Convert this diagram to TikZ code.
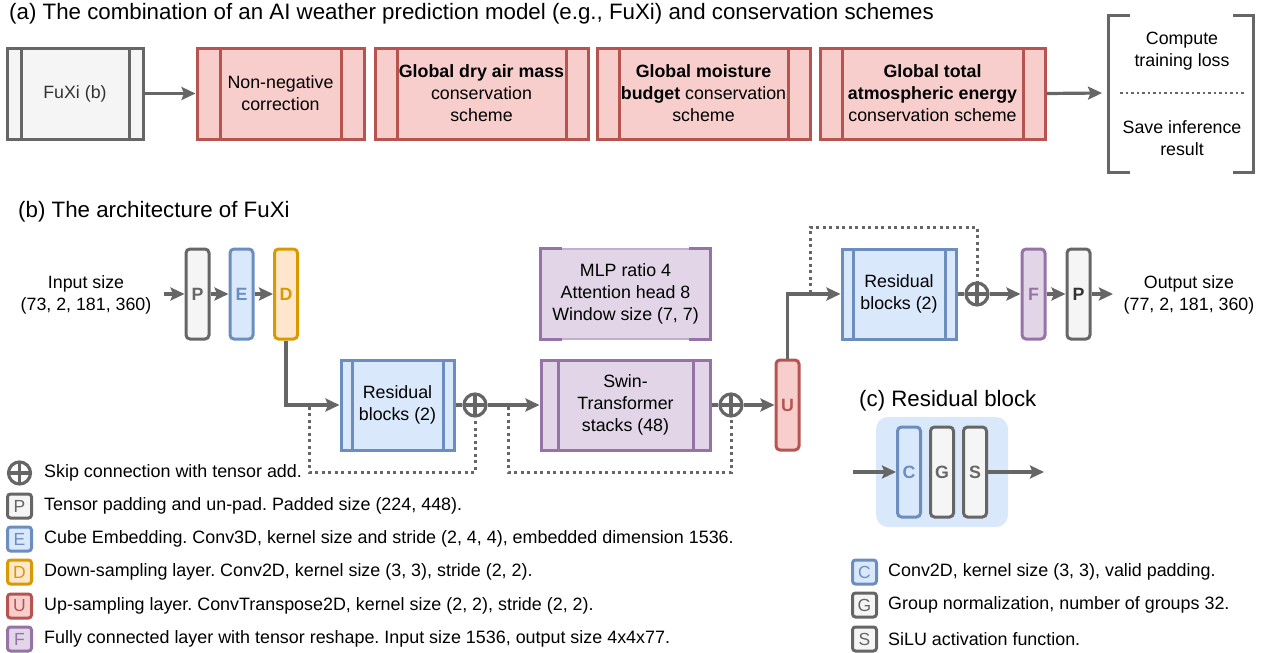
\documentclass[tikz,border=0pt]{standalone}
\usepackage{fontspec}
\setmainfont{Liberation Sans}
\usetikzlibrary{arrows.meta}
\frenchspacing
\definecolor{gS}{HTML}{666666}\definecolor{gF}{HTML}{F5F5F5}
\definecolor{rS}{HTML}{B85450}\definecolor{rF}{HTML}{F8CECC}
\definecolor{bS}{HTML}{6C8EBF}\definecolor{bF}{HTML}{DAE8FC}
\definecolor{oS}{HTML}{D79B00}\definecolor{oF}{HTML}{FFE6CC}
\definecolor{pS}{HTML}{9673A6}\definecolor{pF}{HTML}{E1D5E7}
\definecolor{pL}{HTML}{C4AED0}
\definecolor{tD}{HTML}{333333}
\begin{document}
\begin{tikzpicture}[x=1pt,y=-1pt,
  txt/.style={font=\fontsize{17.8}{22}\selectfont\frenchspacing, align=center, inner sep=0pt},
  ttl/.style={font=\fontsize{22.3}{26}\selectfont\frenchspacing, anchor=west, inner sep=0pt},
  lgt/.style={font=\fontsize{17.9}{22}\selectfont\frenchspacing, anchor=west, inner sep=0pt},
  conn/.style={draw=gS, line width=3.2pt},
  arr/.style={conn, -{Stealth[length=14pt,width=13pt,inset=2.5pt]}},
  dots/.style={draw=gS, line width=3pt, dash pattern=on 3pt off 3.5pt},
  bx/.style 2 args={rectangle, draw=#1, fill=#2, line width=3pt, inner sep=0pt},
  procbox/.style n args={5}{bx={#1}{#2}, minimum width=#3, minimum height=#4, txt,
    path picture={
      \draw[#1, line width=3pt] ([xshift=#5]path picture bounding box.north west) -- ([xshift=#5]path picture bounding box.south west);
      \draw[#1, line width=3pt] ([xshift=-#5]path picture bounding box.north east) -- ([xshift=-#5]path picture bounding box.south east);}},
  sbox/.style 2 args={bx={#1}{#2}, rounded corners=4pt, minimum width=23pt, minimum height=90pt,
    font=\fontsize{17.8}{22}\selectfont\bfseries},
  icon/.style 2 args={bx={#1}{#2}, rounded corners=3pt, minimum width=24pt, minimum height=24pt,
    line width=3pt, font=\fontsize{17.5}{20}\selectfont},
  oplus/.style={circle, draw=gS, line width=3.2pt, minimum size=22pt, inner sep=0pt,
    path picture={
      \draw[gS, line width=3.2pt] (path picture bounding box.west) -- (path picture bounding box.east);
      \draw[gS, line width=3.2pt] (path picture bounding box.north) -- (path picture bounding box.south);}},
]
\useasboundingbox (0,0) rectangle (1266,653);

% ---------------- (a) ----------------
\node[ttl] (ta) at (9,14) {(a) The combination of an AI weather prediction model (e.g., FuXi) and conservation schemes};

\node[procbox={gS}{gF}{136pt}{91pt}{14pt}, text=tD] (fuxi) at (75,93.5) {FuXi (b)};
\node[procbox={rS}{rF}{167pt}{91pt}{23pt}] (nn) at (280.5,93.5) {Non-negative\\correction};
\node[procbox={rS}{rF}{213pt}{91pt}{22pt}] (dry) at (481.5,93.5) {\textbf{Global dry air mass}\\conservation\\scheme};
\node[procbox={rS}{rF}{213pt}{91pt}{22pt}] (moist) at (703.5,93.5) {\textbf{Global moisture}\\\textbf{budget} conservation\\scheme};
\node[procbox={rS}{rF}{225pt}{91pt}{22pt}] (energy) at (932.5,93.5) {\textbf{Global total}\\\textbf{atmospheric energy}\\conservation scheme};

\draw[arr] (fuxi.east) -- (nn.west);
\coordinate (brL) at (1108,93);
\draw[arr] (energy.east) -- ([xshift=-6pt]brL);

\draw[gS, line width=3pt] (1130,15) -- (1108,15) -- (1108,172) -- (1130,172);
\draw[gS, line width=3pt] (1233,15) -- (1253,15) -- (1253,172) -- (1233,172);
\node[txt] (comp) at (1182,51) {Compute\\training loss};
\node[txt] (save) at (1182,138.5) {Save inference\\result};
\draw[draw=gS, line width=2.5pt, dash pattern=on 2.5pt off 3pt] (1120,93) -- (1244,93);

% ---------------- (b) ----------------
\node[ttl] (tb) at (18,212) {(b) The architecture of FuXi};

\node[txt] (inp) at (86,294.5) {Input size\\(73, 2, 181, 360)};
\node[sbox={gS}{gF}, text=gS] (P1) at (197.5,294) {P};
\node[sbox={bS}{bF}, text=bS] (E) at (241.5,294) {E};
\node[sbox={oS}{oF}, text=oS] (D) at (286,294) {D};

\node[procbox={bS}{bF}{113pt}{90pt}{11pt}] (res1) at (397.5,405) {Residual\\blocks (2)};
\node[oplus] (op1) at (475,405) {};
\node[procbox={pS}{pF}{169pt}{90pt}{17pt}] (swin) at (625.5,405) {Swin-\\Transformer\\stacks (48)};
\node[bx={pL}{pF}, line width=1.5pt, minimum width=169pt, minimum height=90pt, txt] (mlp) at (625.5,294) {MLP ratio 4\\Attention head 8\\Window size (7, 7)};
\draw[pS, line width=3pt] ([xshift=22pt]mlp.north west) -- (mlp.north west) -- (mlp.south west) -- ([xshift=22pt]mlp.south west);
\draw[pS, line width=3pt] ([xshift=-22pt]mlp.north east) -- (mlp.north east) -- (mlp.south east) -- ([xshift=-22pt]mlp.south east);
\node[oplus] (op2) at (731,405) {};
\node[sbox={rS}{rF}, text=rS] (U) at (787.5,405) {U};
\node[procbox={bS}{bF}{114pt}{90pt}{11pt}] (res2) at (899,294) {Residual\\blocks (2)};
\node[oplus] (op3) at (977,294) {};
\node[sbox={pS}{pF}, text=pS] (F) at (1033.5,294) {F};
\node[sbox={gS}{gF}, text=tD] (P2) at (1078.5,294) {P};
\node[txt] (outp) at (1189,294.5) {Output size\\(77, 2, 181, 360)};

\coordinate (inA) at (164,294);
\coordinate (outA) at (1113,294);
\draw[arr] (inA) -- (P1.west);
\draw[arr] (P1.east) -- (E.west);
\draw[arr] (E.east) -- (D.west);
\draw[arr] (D.south) |- (res1.west);
\draw[conn] (res1.east) -- (op1.west);
\draw[arr] (op1.east) -- (swin.west);
\draw[conn] (swin.east) -- (op2.west);
\draw[arr] (op2.east) -- (U.west);
\draw[arr] (U.north) |- (res2.west);
\draw[conn] (res2.east) -- (op3.west);
\draw[arr] (op3.east) -- (F.west);
\draw[arr] (F.east) -- (P2.west);
\draw[arr] (P2.east) -- (outA);

\coordinate (s1) at (309,406.5);
\coordinate (s2) at (508,406.5);
\coordinate (s3) at (810,292.5);
\draw[dots] (s1) -- (309,472) -| (op1.south);
\draw[dots] (s2) -- (508,472) -| (op2.south);
\draw[dots] (s3) -- (810,227) -| (op3.north);

% legend (b)
\node[oplus] (lop) at (19.5,473) {};
\node[lgt] (l1) at (44,473) {Skip connection with tensor add.};
\node[icon={gS}{gF}, text=gS] (lP) at (19.5,506) {P};
\node[lgt] (l2) at (44,506) {Tensor padding and un-pad. Padded size (224, 448).};
\node[icon={bS}{bF}, text=bS] (lE) at (19.5,539) {E};
\node[lgt] (l3) at (44,539) {Cube Embedding. Conv3D, kernel size and stride (2, 4, 4), embedded dimension 1536.};
\node[icon={oS}{oF}, text=oS] (lD) at (19.5,572) {D};
\node[lgt] (l4) at (44,572) {Down-sampling layer. Conv2D, kernel size (3, 3), stride (2, 2).};
\node[icon={rS}{rF}, text=rS] (lU) at (19.5,606) {U};
\node[lgt] (l5) at (44,606) {Up-sampling layer. ConvTranspose2D, kernel size (2, 2), stride (2, 2).};
\node[icon={pS}{pF}, text=pS] (lF) at (19.5,639) {F};
\node[lgt] (l6) at (44,639) {Fully connected layer with tensor reshape. Input size 1536, output size 4x4x77.};

% ---------------- (c) ----------------
\node[ttl] (tc) at (859,401) {(c) Residual block};
\node[fill=bF, rounded corners=12pt, minimum width=132pt, minimum height=110pt, inner sep=0pt] (rbg) at (942,472) {};
\node[sbox={bS}{bF}, text=bS] (C) at (909,472) {C};
\node[sbox={gS}{gF}, text=gS] (G) at (942,472) {G};
\node[sbox={gS}{gF}, text=gS] (S) at (975,472) {S};
\coordinate (cin) at (853,472);
\coordinate (cout) at (1044,472);
\draw[arr] (cin) -- (C.west);
\draw[arr] (S.east) -- (cout);

\node[icon={bS}{bF}, text=bS] (lC) at (864.5,572) {C};
\node[lgt] (m1) at (888,572) {Conv2D, kernel size (3, 3), valid padding.};
\node[icon={gS}{gF}, text=gS] (lG) at (864.5,605) {G};
\node[lgt] (m2) at (888,605) {Group normalization, number of groups 32.};
\node[icon={gS}{gF}, text=gS] (lS) at (864.5,639) {S};
\node[lgt] (m3) at (888,639) {SiLU activation function.};
\end{tikzpicture}
\end{document}
